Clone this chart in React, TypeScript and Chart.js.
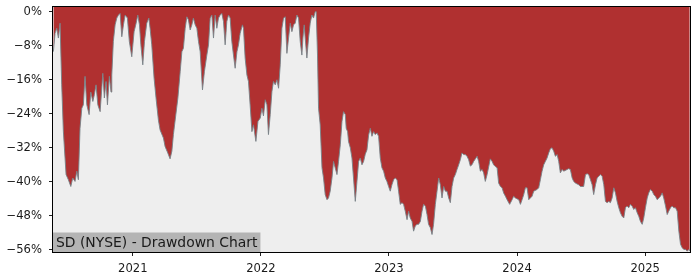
import React, { useEffect, useRef } from "react";
import { Chart, registerables } from "chart.js";

Chart.register(...registerables);

const dates: number[] = [
  2020.380, 2020.393, 2020.406, 2020.419, 2020.432, 2020.445, 2020.458, 2020.479, 2020.497, 2020.516,
  2020.531, 2020.549, 2020.563, 2020.575, 2020.588, 2020.602, 2020.614, 2020.627, 2020.641, 2020.659,
  2020.672, 2020.688, 2020.700, 2020.713, 2020.727, 2020.745, 2020.766, 2020.778, 2020.791, 2020.802,
  2020.817, 2020.830, 2020.836, 2020.848, 2020.862, 2020.875, 2020.888, 2020.901, 2020.914, 2020.927,
  2020.940, 2020.958, 2020.973, 2020.992, 2021.010, 2021.026, 2021.039, 2021.052, 2021.063, 2021.078,
  2021.091, 2021.109, 2021.125, 2021.135, 2021.148, 2021.166, 2021.182, 2021.200, 2021.213, 2021.239,
  2021.252, 2021.273, 2021.291, 2021.305, 2021.317, 2021.336, 2021.352, 2021.370, 2021.383, 2021.395,
  2021.409, 2021.422, 2021.434, 2021.448, 2021.461, 2021.473, 2021.487, 2021.500, 2021.513, 2021.526,
  2021.544, 2021.559, 2021.578, 2021.591, 2021.604, 2021.617, 2021.630, 2021.643, 2021.656, 2021.669,
  2021.682, 2021.695, 2021.708, 2021.721, 2021.734, 2021.747, 2021.760, 2021.773, 2021.786, 2021.799,
  2021.813, 2021.825, 2021.838, 2021.856, 2021.864, 2021.877, 2021.891, 2021.903, 2021.916, 2021.930,
  2021.942, 2021.961, 2021.977, 2021.995, 2022.008, 2022.020, 2022.034, 2022.047, 2022.059, 2022.073,
  2022.086, 2022.098, 2022.112, 2022.125, 2022.138, 2022.151, 2022.164, 2022.177, 2022.190, 2022.203,
  2022.216, 2022.229, 2022.242, 2022.255, 2022.268, 2022.281, 2022.294, 2022.307, 2022.320, 2022.328,
  2022.338, 2022.346, 2022.359, 2022.372, 2022.385, 2022.398, 2022.411, 2022.424, 2022.432, 2022.442,
  2022.450, 2022.463, 2022.477, 2022.489, 2022.502, 2022.516, 2022.528, 2022.541, 2022.555, 2022.567,
  2022.580, 2022.594, 2022.606, 2022.620, 2022.633, 2022.645, 2022.659, 2022.666, 2022.677, 2022.684,
  2022.698, 2022.711, 2022.723, 2022.737, 2022.750, 2022.763, 2022.776, 2022.789, 2022.802, 2022.815,
  2022.828, 2022.841, 2022.854, 2022.867, 2022.880, 2022.893, 2022.906, 2022.919, 2022.932, 2022.945,
  2022.958, 2022.971, 2022.984, 2022.997, 2023.010, 2023.023, 2023.036, 2023.049, 2023.063, 2023.075,
  2023.088, 2023.102, 2023.114, 2023.127, 2023.141, 2023.153, 2023.166, 2023.180, 2023.192, 2023.205,
  2023.219, 2023.231, 2023.245, 2023.258, 2023.270, 2023.284, 2023.297, 2023.309, 2023.323, 2023.336,
  2023.348, 2023.362, 2023.375, 2023.388, 2023.401, 2023.414, 2023.427, 2023.440, 2023.453, 2023.466,
  2023.479, 2023.492, 2023.505, 2023.518, 2023.531, 2023.544, 2023.557, 2023.570, 2023.583, 2023.596,
  2023.609, 2023.622, 2023.635, 2023.648, 2023.661, 2023.688, 2023.700, 2023.713, 2023.727, 2023.739,
  2023.752, 2023.766, 2023.791, 2023.805, 2023.817, 2023.830, 2023.844, 2023.856, 2023.870, 2023.883,
  2023.895, 2023.909, 2023.922, 2023.942, 2023.961, 2023.973, 2023.987, 2024.013, 2024.026, 2024.039,
  2024.052, 2024.065, 2024.078, 2024.091, 2024.104, 2024.117, 2024.130, 2024.156, 2024.169, 2024.182,
  2024.195, 2024.208, 2024.221, 2024.234, 2024.247, 2024.260, 2024.273, 2024.286, 2024.299, 2024.313,
  2024.325, 2024.338, 2024.352, 2024.364, 2024.391, 2024.403, 2024.416, 2024.430, 2024.442, 2024.456,
  2024.481, 2024.495, 2024.520, 2024.534, 2024.547, 2024.559, 2024.573, 2024.586, 2024.598, 2024.612,
  2024.625, 2024.638, 2024.651, 2024.664, 2024.677, 2024.690, 2024.703, 2024.716, 2024.729, 2024.742,
  2024.755, 2024.768, 2024.781, 2024.794, 2024.807, 2024.820, 2024.833, 2024.846, 2024.859, 2024.872,
  2024.885, 2024.898, 2024.911, 2024.924, 2024.938, 2024.950, 2024.963, 2024.977, 2024.989, 2025.002,
  2025.016, 2025.028, 2025.041, 2025.055, 2025.067, 2025.080, 2025.094, 2025.106, 2025.120, 2025.133,
  2025.145, 2025.159, 2025.172, 2025.184, 2025.198, 2025.211, 2025.223, 2025.237, 2025.250, 2025.263,
  2025.276, 2025.289, 2025.302, 2025.315, 2025.328, 2025.341, 2025.348,
];

const drawdown: number[] = [
  -9.4, -5.1, -3.9, -6.2, -2.7, -17.2, -28.2, -38.3, -39.5, -41.1,
  -39.1, -39.9, -37.5, -39.5, -27.4, -22.7, -21.9, -15.2, -21.9, -24.2,
  -18.9, -21.1, -19.5, -17.2, -21.9, -23.5, -14.5, -20.3, -16.4, -21.9,
  -15.2, -18.9, -14.9, -7.0, -3.1, -1.5, -0.8, -0.4, -5.9, -3.1,
  -0.8, -1.5, -7.0, -10.6, -4.7, -2.7, -0.8, -3.1, -7.8, -12.5,
  -7.0, -2.7, -1.5, -3.9, -7.8, -15.6, -20.5, -25.5, -27.8, -29.7,
  -31.7, -33.2, -34.6, -32.8, -28.9, -24.2, -20.3, -14.1, -9.4, -8.6,
  -3.9, -1.2, -1.9, -4.3, -3.1, -1.5, -3.1, -3.9, -7.0, -9.4,
  -18.4, -14.1, -10.2, -7.8, -1.5, -0.8, -6.2, -0.8, -3.9, -1.5,
  -0.8, -0.4, -2.3, -7.8, -2.3, -0.8, -1.5, -7.0, -10.2, -13.3,
  -9.4, -7.8, -5.1, -3.1, -3.9, -10.9, -14.9, -16.4, -21.9, -28.2,
  -26.6, -30.5, -25.8, -25.0, -22.7, -24.5, -20.7, -21.9, -28.9, -24.2,
  -18.8, -16.4, -17.2, -16.0, -18.0, -12.5, -3.9, -1.5, -1.2, -9.8,
  -6.2, -2.7, -4.7, -3.1, -2.7, -0.8, -1.5, -7.0, -10.2, -6.2,
  -3.1, -6.2, -10.9, -6.2, -2.7, -0.8, -1.5, 0, 0, -10.2,
  -22.7, -26.6, -36.7, -39.1, -43.0, -44.2, -43.8, -42.2, -39.1, -35.2,
  -36.7, -38.3, -35.2, -31.3, -25.8, -23.5, -24.2, -27.4, -28.2, -30.5,
  -32.0, -34.4, -39.1, -44.6, -39.9, -35.2, -34.4, -36.0, -35.2, -33.5,
  -32.5, -29.0, -27.4, -29.3, -28.2, -28.9, -28.5, -29.3, -34.4, -36.7,
  -37.5, -39.1, -39.9, -41.1, -42.2, -40.7, -39.5, -39.1, -39.5, -42.2,
  -45.3, -44.9, -45.3, -46.9, -48.9, -46.9, -48.5, -49.3, -51.6, -50.4,
  -50.0, -50.0, -49.3, -46.9, -45.3, -45.7, -47.7, -50.0, -50.8, -52.4,
  -50.0, -45.3, -42.2, -39.1, -40.7, -43.8, -41.1, -42.2, -42.2, -43.8,
  -44.9, -41.1, -39.1, -38.3, -37.1, -36.0, -34.8, -33.2, -33.6, -33.6,
  -34.0, -34.8, -36.3, -36.0, -35.2, -34.0, -35.2, -37.5, -37.1, -37.9,
  -39.9, -38.3, -34.6, -35.2, -36.0, -36.4, -36.7, -40.3, -41.1, -41.4,
  -42.6, -43.4, -44.2, -45.3, -44.2, -43.4, -43.8, -44.2, -45.3, -44.2,
  -43.0, -41.4, -41.4, -44.2, -43.8, -43.4, -42.2, -41.8, -41.4, -39.5,
  -37.5, -36.0, -35.2, -34.4, -33.2, -32.2, -32.0, -32.8, -34.0, -33.6,
  -35.2, -37.9, -37.1, -37.5, -37.1, -36.9, -37.1, -39.1, -39.9, -40.3,
  -40.7, -41.1, -41.1, -38.3, -38.1, -38.3, -39.5, -40.7, -43.0, -40.7,
  -39.1, -38.7, -38.3, -38.7, -40.7, -44.6, -44.9, -44.6, -44.9, -43.8,
  -41.4, -42.6, -44.6, -46.1, -47.3, -48.1, -48.5, -46.1, -45.7, -46.1,
  -45.3, -45.7, -46.5, -46.1, -47.3, -48.1, -49.3, -50.0, -48.5, -46.1,
  -43.8, -42.6, -41.8, -42.2, -43.0, -43.4, -44.2, -43.8, -43.4, -42.6,
  -43.8, -45.7, -47.7, -46.9, -46.1, -45.7, -46.1, -46.1, -46.9, -51.6,
  -54.7, -55.5, -55.9, -55.9, -56.3, -55.9, -56.3,
];

const yTicks: number[] = [0, -8, -16, -24, -32, -40, -48, -56];
const xTicks: number[] = [2021, 2022, 2023, 2024, 2025];
const chartTitle = "SD (NYSE) - Drawdown Chart";

const FONT = '"DejaVu Sans", sans-serif';

export default function App() {
  const ref = useRef<HTMLCanvasElement>(null);

  useEffect(() => {
    document.body.style.margin = "0";
    const canvas = ref.current;
    if (!canvas) return;

    const bgPlugin = {
      id: "bgPlugin",
      beforeDraw(chart: any) {
        const { ctx, chartArea } = chart;
        ctx.save();
        ctx.fillStyle = "#ffffff";
        ctx.fillRect(0, 0, chart.width, chart.height);
        ctx.fillStyle = "#eeeeee";
        ctx.fillRect(chartArea.left, chartArea.top, chartArea.right - chartArea.left, chartArea.bottom - chartArea.top);
        ctx.restore();
      },
      afterDraw(chart: any) {
        const { ctx, chartArea } = chart;
        ctx.save();
        ctx.font = `13.9px ${FONT}`;
        const w = ctx.measureText(chartTitle).width;
        const boxTop = chartArea.bottom - 19.5;
        ctx.fillStyle = "#b4b4b4";
        ctx.fillRect(chartArea.left, boxTop, w + 6, chartArea.bottom - boxTop);
        ctx.fillStyle = "#1a1a1a";
        ctx.textBaseline = "alphabetic";
        ctx.textAlign = "left";
        ctx.fillText(chartTitle, chartArea.left + 3, chartArea.bottom - 5.3);
        ctx.strokeStyle = "#000000";
        ctx.lineWidth = 1;
        ctx.strokeRect(chartArea.left - 0.5, chartArea.top - 0.5, chartArea.right - chartArea.left + 1, chartArea.bottom - chartArea.top + 1);
        ctx.restore();
      },
    };

    const chart = new Chart(canvas, {
      type: "line",
      data: {
        datasets: [
          {
            data: dates.map((d, i) => ({ x: d, y: drawdown[i] })),
            borderColor: "rgba(120,130,135,0.9)",
            borderWidth: 1,
            backgroundColor: "#b03030",
            fill: "end",
            pointRadius: 0,
            tension: 0,
          },
        ],
      },
      options: {
        animation: false,
        responsive: false,
        devicePixelRatio: 1,
        layout: { padding: { top: 7, right: 10, left: 0, bottom: 0 } },
        plugins: { legend: { display: false }, tooltip: { enabled: false } },
        scales: {
          x: {
            type: "linear",
            min: 2020.377,
            max: 2025.35,
            afterBuildTicks: (scale: any) => {
              scale.ticks = xTicks.map((v) => ({ value: v }));
            },
            afterFit: (scale: any) => {
              scale.height = 28;
              scale.paddingLeft = 0;
              scale.paddingRight = 0;
            },
            ticks: {
              autoSkip: false,
              maxRotation: 0,
              padding: 6,
              color: "#1a1a1a",
              font: { family: FONT, size: 11.6 },
              callback: (v: any) => String(v),
            },
            grid: { drawOnChartArea: false, drawTicks: true, tickLength: 4, color: "#222", lineWidth: 1 },
            border: { display: false },
          },
          y: {
            type: "linear",
            min: -56.5,
            max: 1.1,
            afterBuildTicks: (scale: any) => {
              scale.ticks = yTicks.map((v) => ({ value: v }));
            },
            afterFit: (scale: any) => {
              scale.width = 53;
              scale.paddingTop = 0;
              scale.paddingBottom = 0;
            },
            ticks: {
              autoSkip: false,
              padding: 7,
              color: "#1a1a1a",
              font: { family: FONT, size: 11.6 },
              callback: (v: any) => (v < 0 ? "\u2212" + Math.abs(v) + "%" : "0%"),
            },
            grid: { drawOnChartArea: false, drawTicks: true, tickLength: 4, color: "#222", lineWidth: 1 },
            border: { display: false },
          },
        },
      },
      plugins: [bgPlugin],
    });

    return () => chart.destroy();
  }, []);

  return (
    <div style={{ position: "absolute", left: 0, top: 0, width: 700, height: 280 }}>
      <canvas ref={ref} width={700} height={280} style={{ width: 700, height: 280 }} />
    </div>
  );
}
